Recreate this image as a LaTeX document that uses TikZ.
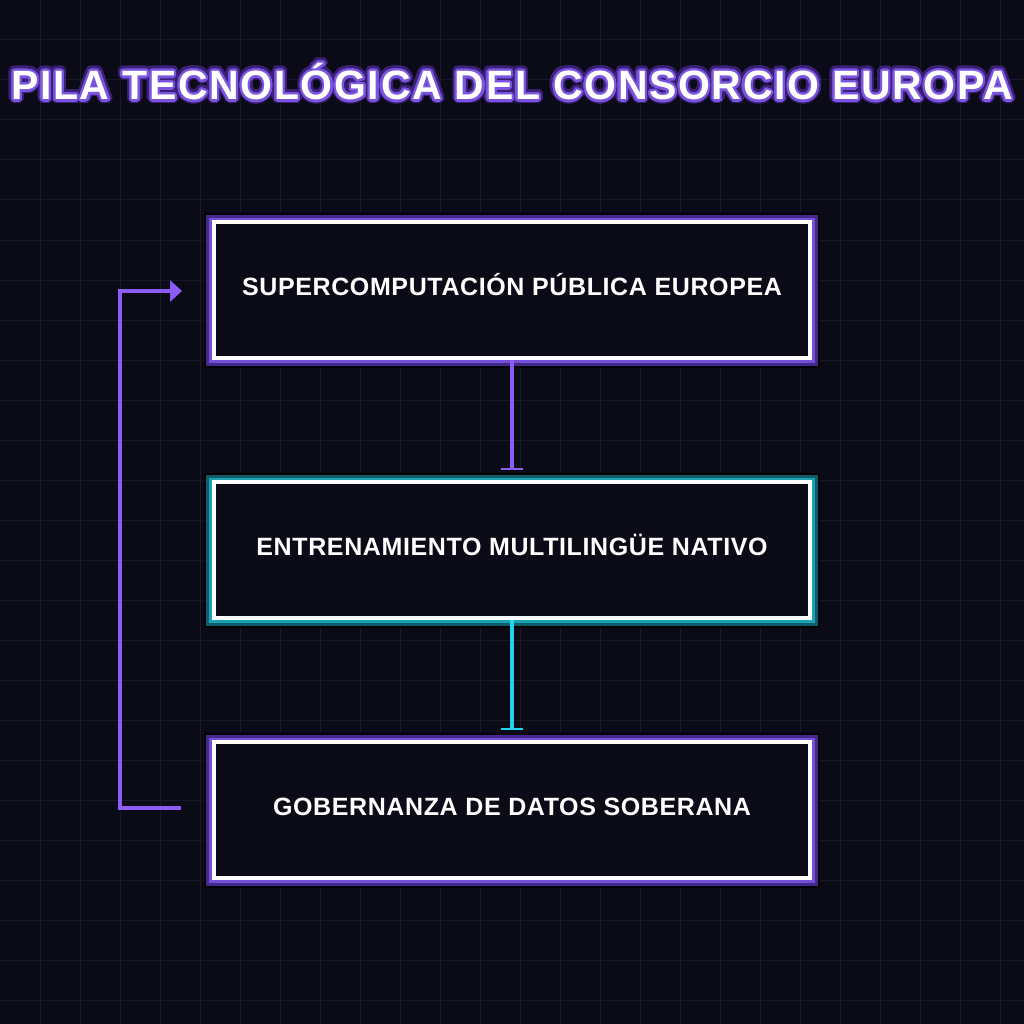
\documentclass[tikz,border=0pt]{standalone}
\usepackage{fontspec}
\setmainfont{Liberation Sans}
\usepackage{contour}
\usetikzlibrary{arrows.meta}
\definecolor{bgc}{HTML}{0B0B18}
\definecolor{gridc}{HTML}{181828}
\definecolor{purp}{HTML}{8B5CF6}
\definecolor{cyanl}{HTML}{22D3EE}
\definecolor{glowp}{HTML}{7450D8}
\definecolor{glowpd}{HTML}{45298A}
\definecolor{glowt}{HTML}{1AA3B5}
\definecolor{glowtd}{HTML}{0D5E6A}
\definecolor{titleglow}{HTML}{7B55E0}
\definecolor{titleglowd}{HTML}{3A2175}
\contournumber{24}
\newcommand\boxlabel[1]{\raisebox{-5.5pt}[0pt][0pt]{#1}}
\begin{document}
\begin{tikzpicture}[x=1pt,y=-1pt,
  boxnode/.style={draw=white, line width=4pt, fill=bgc, minimum width=596pt, minimum height=136pt, inner sep=0pt,
    text=white, font=\bfseries\fontsize{25}{28}\selectfont\addfontfeature{LetterSpace=2.5}},
  titlefont/.style={text=white, font=\bfseries\fontsize{41}{48}\selectfont\addfontfeature{LetterSpace=4}, inner sep=0pt},
  link/.style={line width=4pt, line cap=butt},
  bartip/.style={-{Bar[width=22pt,line width=2.5pt]}}
]
\fill[bgc] (0,0) rectangle (1024,1024);
\useasboundingbox (0,0) rectangle (1024,1024);
\foreach \g in {40,80,...,1000} {
  \draw[gridc, line width=1pt] (\g,0) -- (\g,1024);
  \draw[gridc, line width=1pt] (0,\g) -- (1024,\g);
}
% title
\node[titlefont] (t0) at (512,83) {\contourlength{4.5pt}\contour{titleglowd}{PILA TECNOLÓGICA DEL CONSORCIO EUROPA}};
\node[titlefont] (title) at (512,83) {\contourlength{2.2pt}\contour{titleglow}{PILA TECNOLÓGICA DEL CONSORCIO EUROPA}};
% glows
\fill[black] (204,213) rectangle (820,368);
\fill[glowpd] (206,215) rectangle (818,366);
\fill[glowp] (209,218) rectangle (815,363);
\fill[black] (204,473) rectangle (820,628);
\fill[glowtd] (206,475) rectangle (818,626);
\fill[glowt] (209,478) rectangle (815,623);
\fill[black] (204,733) rectangle (820,888);
\fill[glowpd] (206,735) rectangle (818,886);
\fill[glowp] (209,738) rectangle (815,883);
% boxes
\node[boxnode] (s1) at (512,290) {\boxlabel{SUPERCOMPUTACIÓN PÚBLICA EUROPEA}};
\node[boxnode] (s2) at (512,550) {\boxlabel{ENTRENAMIENTO MULTILINGÜE NATIVO}};
\node[boxnode] (s3) at (512,810) {\boxlabel{GOBERNANZA DE DATOS SOBERANA}};
% connectors
\draw[link, purp, bartip] (s1.south) -- ([yshift=10pt]s2.north);
\draw[link, cyanl, bartip] (s2.south) -- ([yshift=10pt]s3.north);
\coordinate (l1) at (181,808);
\coordinate (l2) at (182,291);
\draw[link, purp, line join=miter, -{Triangle[width=21pt,length=12pt]}] (l1) -- ++(-61,0) |- (l2);
\end{tikzpicture}
\end{document}
